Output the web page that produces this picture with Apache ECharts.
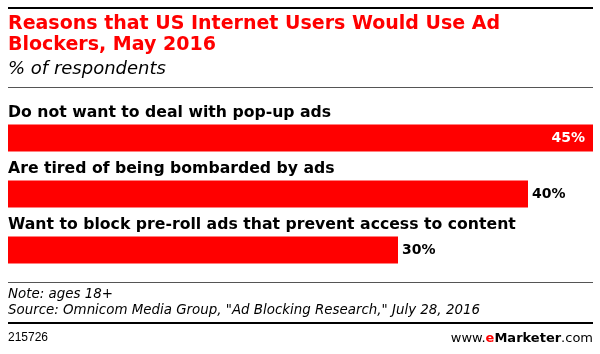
<!DOCTYPE html>
<html>
<head>
<meta charset="utf-8">
<script src="https://cdn.jsdelivr.net/npm/echarts@6/dist/echarts.min.js"></script>
<style>html,body{margin:0;padding:0;background:#fff}#chart{width:600px;height:354px}</style>
</head>
<body>
<div id="chart"></div>
<script>
	// reasons and shares (% of respondents)
	var reasons = ['Do not want to deal with pop-up ads', 'Are tired of being bombarded by ads', 'Want to block pre-roll ads that prevent access to content'];
	var shares = [45, 40, 30];

	var myChart = echarts.init(document.getElementById('chart'));
	var font = '"DejaVu Sans", Verdana, sans-serif';
	var bars = shares.map(function(v, i){
		if (i === 0) return {value: v, label: {position: 'insideRight', color: '#fff', distance: 8}};
		return v;
	});
	option = {
		backgroundColor: '#fff',
		animation: false,
		grid: {left: 8, right: 7, top: 110, height: 168},
		xAxis: {type: 'value', min: 0, max: 45, show: false},
		yAxis: {
			type: 'category', data: reasons, inverse: true,
			axisLine: {show: false}, axisTick: {show: false},
			axisLabel: {inside: true, margin: 0, align: 'left', verticalAlign: 'bottom', padding: [0, 0, 17, 0],
				fontFamily: font, fontWeight: 'bold', fontSize: 15.7, color: '#000'}
		},
		series: [{
			type: 'bar', data: bars, barWidth: 27,
			itemStyle: {color: '#ff0000'},
			label: {show: true, position: 'right', distance: 4, formatter: '{c}%', fontFamily: font, fontWeight: 'bold', fontSize: 14, color: '#000'}
		}],
		graphic: [
			{type: 'rect', left: 8, top: 7, shape: {width: 585, height: 2}, style: {fill: '#000'}},
			{type: 'text', left: 8, top: 14, style: {text: 'Reasons that US Internet Users Would Use Ad\nBlockers, May 2016', fill: '#ff0000', font: 'bold 19px ' + font, lineHeight: 21}},
			{type: 'text', left: 8, top: 60, style: {text: '% of respondents', fill: '#000', font: 'italic 18px ' + font}},
			{type: 'rect', left: 8, top: 87, shape: {width: 585, height: 1}, style: {fill: '#555'}},
			{type: 'rect', left: 8, top: 282, shape: {width: 585, height: 1}, style: {fill: '#555'}},
			{type: 'text', left: 8, top: 287, style: {text: 'Note: ages 18+\nSource: Omnicom Media Group, "Ad Blocking Research," July 28, 2016', fill: '#000', font: 'italic 13.4px ' + font, lineHeight: 16}},
			{type: 'rect', left: 8, top: 322, shape: {width: 585, height: 2}, style: {fill: '#000'}},
			{type: 'text', left: 8, top: 332, style: {text: '215726', fill: '#000', font: '12px "Liberation Sans", Arial, sans-serif'}},
			{type: 'text', right: 7, top: 332, style: {text: '{a|www.}{b|e}{c|Marketer}{a|.com}', rich: {
				a: {font: '13px ' + font, fill: '#000'},
				b: {font: 'bold 13px ' + font, fill: '#ff0000'},
				c: {font: 'bold 13px ' + font, fill: '#000'}
			}}}
		]
	};
	myChart.setOption(option);
</script>
</body>
</html>
